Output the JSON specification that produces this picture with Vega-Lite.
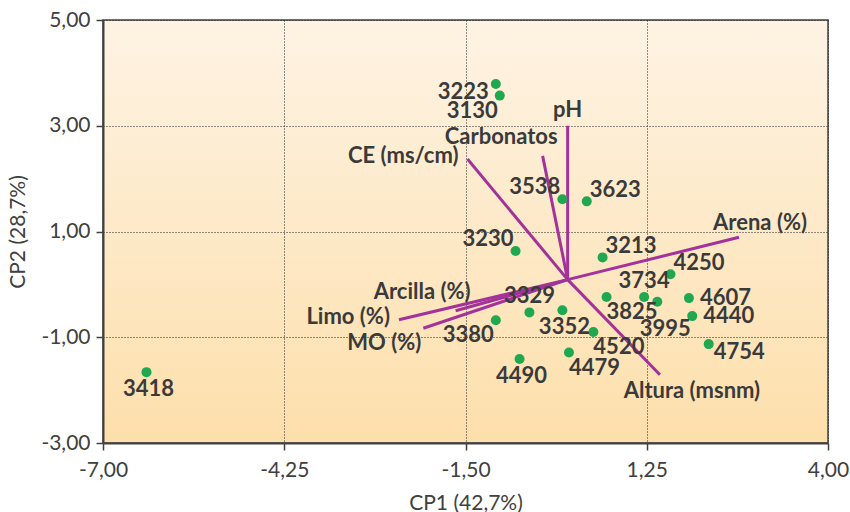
{
  "$schema": "https://vega.github.io/schema/vega-lite/v6.json",
  "width": 725,
  "height": 423,
  "autosize": {"type": "none"},
  "padding": {"left": 103, "top": 20, "right": 22, "bottom": 69},
  "background": "#ffffff",
  "config": {
    "view": {
      "fill": {"gradient": "linear", "x1": 0, "y1": 0, "x2": 0, "y2": 1,
        "stops": [{"offset": 0, "color": "#fef3e4"}, {"offset": 1, "color": "#fddfab"}]},
      "stroke": "#404040",
      "strokeWidth": 1.5
    },
    "axis": {
      "labelFont": "Lato",
      "labelFontSize": 21,
      "labelColor": "#404040",
      "titleFont": "Lato",
      "titleFontSize": 21,
      "titleFontWeight": "normal",
      "titleColor": "#404040",
      "domainColor": "#404040",
      "domainWidth": 2,
      "tickColor": "#404040",
      "tickSize": 7,
      "tickWidth": 1.5,
      "grid": true,
      "gridColor": "#222222",
      "gridDash": [1, 2],
      "gridWidth": 1,
      "labelFlush": false,
      "labelOverlap": false
    }
  },
  "data": {
    "values": [
      {"nombre": "3223", "tipo": "sitio", "cp1": -1.04, "cp2": 3.79, "pos": "LB"},
      {"nombre": "3130", "tipo": "sitio", "cp1": -0.98, "cp2": 3.57, "pos": "BL"},
      {"nombre": "3538", "tipo": "sitio", "cp1": -0.03, "cp2": 1.61, "pos": "AL"},
      {"nombre": "3623", "tipo": "sitio", "cp1": 0.34, "cp2": 1.57, "pos": "AR"},
      {"nombre": "3230", "tipo": "sitio", "cp1": -0.74, "cp2": 0.63, "pos": "AL"},
      {"nombre": "3213", "tipo": "sitio", "cp1": 0.58, "cp2": 0.51, "pos": "AR"},
      {"nombre": "4250", "tipo": "sitio", "cp1": 1.61, "cp2": 0.19, "pos": "AR"},
      {"nombre": "3825", "tipo": "sitio", "cp1": 0.64, "cp2": -0.24, "pos": "BR"},
      {"nombre": "3734", "tipo": "sitio", "cp1": 1.21, "cp2": -0.24, "pos": "A"},
      {"nombre": "3995", "tipo": "sitio", "cp1": 1.41, "cp2": -0.33, "pos": "BB"},
      {"nombre": "4607", "tipo": "sitio", "cp1": 1.89, "cp2": -0.26, "pos": "R"},
      {"nombre": "4440", "tipo": "sitio", "cp1": 1.94, "cp2": -0.6, "pos": "R"},
      {"nombre": "4754", "tipo": "sitio", "cp1": 2.19, "cp2": -1.13, "pos": "RB"},
      {"nombre": "4520", "tipo": "sitio", "cp1": 0.44, "cp2": -0.9, "pos": "BR"},
      {"nombre": "4479", "tipo": "sitio", "cp1": 0.07, "cp2": -1.29, "pos": "BR"},
      {"nombre": "3352", "tipo": "sitio", "cp1": -0.03, "cp2": -0.49, "pos": "B"},
      {"nombre": "3329", "tipo": "sitio", "cp1": -0.53, "cp2": -0.53, "pos": "A"},
      {"nombre": "3380", "tipo": "sitio", "cp1": -1.04, "cp2": -0.68, "pos": "BL"},
      {"nombre": "4490", "tipo": "sitio", "cp1": -0.68, "cp2": -1.41, "pos": "B"},
      {"nombre": "3418", "tipo": "sitio", "cp1": -6.34, "cp2": -1.66, "pos": "B"},
      {"nombre": "pH", "tipo": "variable", "cp1": 0.05, "cp2": 3.0, "pos": "A"},
      {"nombre": "Carbonatos", "tipo": "variable", "cp1": -0.33, "cp2": 2.43, "pos": "AL2"},
      {"nombre": "CE (ms/cm)", "tipo": "variable", "cp1": -1.47, "cp2": 2.37, "pos": "L"},
      {"nombre": "Arena (%)", "tipo": "variable", "cp1": 2.65, "cp2": 0.89, "pos": "AC"},
      {"nombre": "Altura (msnm)", "tipo": "variable", "cp1": 1.45, "cp2": -1.71, "pos": "BC"},
      {"nombre": "Arcilla (%)", "tipo": "variable", "cp1": -1.65, "cp2": -0.5, "pos": "AL2"},
      {"nombre": "Limo (%)", "tipo": "variable", "cp1": -2.51, "cp2": -0.67, "pos": "L"},
      {"nombre": "MO (%)", "tipo": "variable", "cp1": -2.14, "cp2": -0.83, "pos": "BL"}
    ]
  },
  "encoding": {
    "x": {"field": "cp1", "type": "quantitative",
      "scale": {"domain": [-7, 4], "nice": false, "zero": false},
      "axis": {"title": "CP1 (42,7%)", "values": [-7, -4.25, -1.5, 1.25, 4],
        "labelExpr": "replace(replace(format(datum.value, '.2f'), '.', ','), '−', '-')",
        "labelPadding": 9, "titlePadding": 12}},
    "y": {"field": "cp2", "type": "quantitative",
      "scale": {"domain": [-3, 5], "nice": false, "zero": false},
      "axis": {"title": "CP2 (28,7%)", "values": [-3, -1, 1, 3, 5],
        "labelExpr": "replace(replace(format(datum.value, '.2f'), '.', ','), '−', '-')",
        "labelPadding": 6, "titlePadding": 12}}
  },
  "layer": [
    {
      "transform": [{"filter": "datum.tipo == 'variable'"}],
      "mark": {"type": "rule", "color": "#a3329a", "strokeWidth": 3},
      "encoding": {"x2": {"datum": 0.05}, "y2": {"datum": 0.09}}
    },
    {
      "transform": [{"filter": "datum.tipo == 'sitio'"}],
      "mark": {"type": "circle", "color": "#1fa84f", "opacity": 1, "size": 100}
    },
    {
      "encoding": {"text": {"field": "nombre"}},
      "layer": [
        {"transform": [{"filter": "datum.pos == 'L'"}], "mark": {"type": "text", "font": "Lato", "fontWeight": "bold", "fontSize": 22, "color": "#3a3a3a", "baseline": "middle", "align": "right", "dx": -9, "dy": -3}},
        {"transform": [{"filter": "datum.pos == 'R'"}], "mark": {"type": "text", "font": "Lato", "fontWeight": "bold", "fontSize": 22, "color": "#3a3a3a", "baseline": "middle", "align": "left", "dx": 11, "dy": 0}},
        {"transform": [{"filter": "datum.pos == 'A'"}], "mark": {"type": "text", "font": "Lato", "fontWeight": "bold", "fontSize": 22, "color": "#3a3a3a", "baseline": "middle", "align": "center", "dx": 0, "dy": -16}},
        {"transform": [{"filter": "datum.pos == 'B'"}], "mark": {"type": "text", "font": "Lato", "fontWeight": "bold", "fontSize": 22, "color": "#3a3a3a", "baseline": "middle", "align": "center", "dx": 2, "dy": 17}},
        {"transform": [{"filter": "datum.pos == 'AL'"}], "mark": {"type": "text", "font": "Lato", "fontWeight": "bold", "fontSize": 22, "color": "#3a3a3a", "baseline": "middle", "align": "right", "dx": -2, "dy": -12}},
        {"transform": [{"filter": "datum.pos == 'AR'"}], "mark": {"type": "text", "font": "Lato", "fontWeight": "bold", "fontSize": 22, "color": "#3a3a3a", "baseline": "middle", "align": "left", "dx": 3, "dy": -11}},
        {"transform": [{"filter": "datum.pos == 'BL'"}], "mark": {"type": "text", "font": "Lato", "fontWeight": "bold", "fontSize": 22, "color": "#3a3a3a", "baseline": "middle", "align": "right", "dx": -2, "dy": 15}},
        {"transform": [{"filter": "datum.pos == 'BR'"}], "mark": {"type": "text", "font": "Lato", "fontWeight": "bold", "fontSize": 22, "color": "#3a3a3a", "baseline": "middle", "align": "left", "dx": 0, "dy": 15}},
        {"transform": [{"filter": "datum.pos == 'AL2'"}], "mark": {"type": "text", "font": "Lato", "fontWeight": "bold", "fontSize": 22, "color": "#3a3a3a", "baseline": "middle", "align": "right", "dx": 15, "dy": -19}},
        {"transform": [{"filter": "datum.pos == 'AC'"}], "mark": {"type": "text", "font": "Lato", "fontWeight": "bold", "fontSize": 22, "color": "#3a3a3a", "baseline": "middle", "align": "center", "dx": 21, "dy": -14}},
        {"transform": [{"filter": "datum.pos == 'BC'"}], "mark": {"type": "text", "font": "Lato", "fontWeight": "bold", "fontSize": 22, "color": "#3a3a3a", "baseline": "middle", "align": "center", "dx": 32, "dy": 16}},
        {"transform": [{"filter": "datum.pos == 'BB'"}], "mark": {"type": "text", "font": "Lato", "fontWeight": "bold", "fontSize": 22, "color": "#3a3a3a", "baseline": "middle", "align": "center", "dx": 8, "dy": 27}},
        {"transform": [{"filter": "datum.pos == 'LB'"}], "mark": {"type": "text", "font": "Lato", "fontWeight": "bold", "fontSize": 22, "color": "#3a3a3a", "baseline": "middle", "align": "right", "dx": -7, "dy": 8}},
        {"transform": [{"filter": "datum.pos == 'RB'"}], "mark": {"type": "text", "font": "Lato", "fontWeight": "bold", "fontSize": 22, "color": "#3a3a3a", "baseline": "middle", "align": "left", "dx": 5, "dy": 8}}
      ]
    }
  ]
}
